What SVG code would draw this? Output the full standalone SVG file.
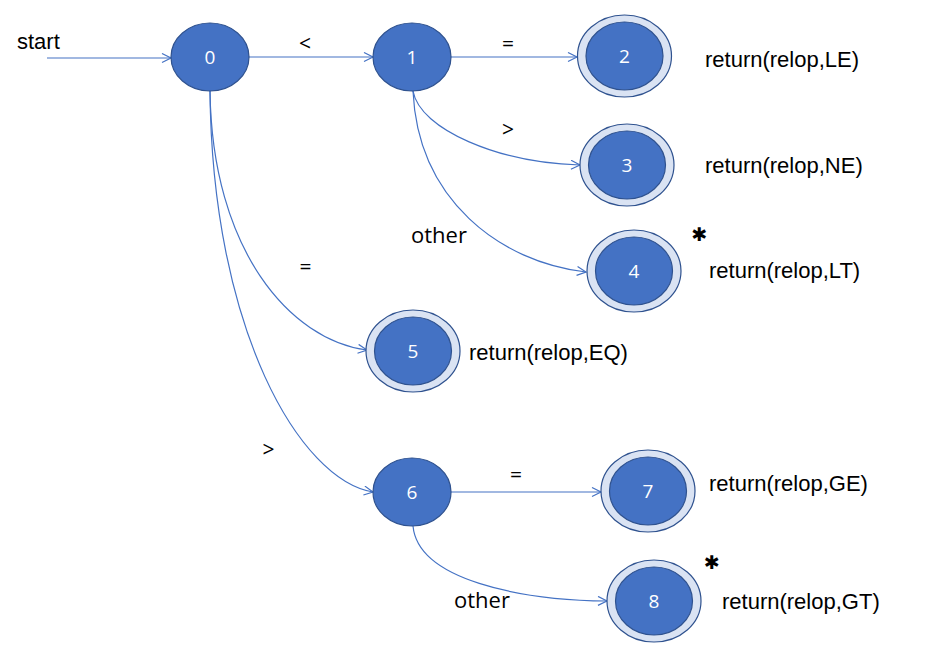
<svg xmlns="http://www.w3.org/2000/svg" width="942" height="645" viewBox="0 0 942 645">
<style>
.st{fill:#4472C4;stroke:#2F528F;stroke-width:1.2}
.ring{fill:#DAE3F3;stroke:#2F528F;stroke-width:1.2}
.num{font-family:"Open Sans","Noto Sans",sans-serif;font-size:19px;fill:#fff;text-anchor:middle}
.edge{fill:none;stroke:#4472C4;stroke-width:1.2;marker-end:url(#arr)}
.lbl{font-family:"Open Sans","Noto Sans",sans-serif;font-size:21px;fill:#000;text-anchor:middle}
.oth{font-family:"Open Sans","Noto Sans",sans-serif;font-size:22px;fill:#000}
.ret{font-family:"Liberation Sans",Arial,sans-serif;font-size:22px;fill:#000}
.star{font-family:"DejaVu Sans",sans-serif;font-size:19px;font-weight:bold;fill:#000;text-anchor:middle}
</style>
<defs>
<marker id="arr" markerWidth="12" markerHeight="12" refX="10" refY="5" orient="auto" markerUnits="userSpaceOnUse">
<path d="M1,0.5 L10,5 L1,9.5" fill="none" stroke="#4472C4" stroke-width="1.2"/>
</marker>
</defs>
<rect width="942" height="645" fill="#fff"/>
<g id="connectors">
<path class="edge" d="M47,58 L171,58"/>
<path class="edge" d="M249,57 L373,57"/>
<path class="edge" d="M451,57 L577,57"/>
<path class="edge" d="M413,91 C420,130 500,163 580,165"/>
<path class="edge" d="M413,91 C418,200 500,262 586,272"/>
<path class="edge" d="M210,91 C212,250 290,340 367,350"/>
<path class="edge" d="M210,91 C212,330 300,480 373,492"/>
<path class="edge" d="M451,492 L601,492"/>
<path class="edge" d="M413,526 C418,580 520,600 607,601"/>
</g>
<g id="labels">
<text x="17" y="49" style="font-family:'Liberation Sans',Arial,sans-serif;font-size:22px">start</text>
<text class="lbl" x="305" y="50.5">&lt;</text>
<text class="lbl" x="508" y="50.5">=</text>
<text class="lbl" x="508" y="136.5">&gt;</text>
<text class="oth" x="411" y="243">other</text>
<text class="lbl" x="305.5" y="274">=</text>
<text class="lbl" x="268.5" y="456.5">&gt;</text>
<text class="lbl" x="516" y="481.5">=</text>
<text class="oth" x="454" y="608">other</text>
</g>
<g id="node0"><ellipse class="st" cx="210" cy="57" rx="39" ry="34"/><text class="num" x="210" y="64">0</text></g>
<g id="node1"><ellipse class="st" cx="412" cy="57" rx="39" ry="34"/><text class="num" x="412" y="64">1</text></g>
<g id="node2"><ellipse class="ring" cx="624.5" cy="56" rx="47" ry="41"/><ellipse class="st" cx="624.5" cy="56" rx="38.5" ry="34"/><text class="num" x="624.5" y="63">2</text>
<text class="ret" x="705" y="67">return(relop,LE)</text></g>
<g id="node3"><ellipse class="ring" cx="627" cy="165" rx="47" ry="41"/><ellipse class="st" cx="627" cy="165" rx="38.5" ry="34"/><text class="num" x="627" y="172">3</text>
<text class="ret" x="705" y="173">return(relop,NE)</text></g>
<g id="node4"><ellipse class="ring" cx="634" cy="271" rx="47" ry="41"/><ellipse class="st" cx="634" cy="271" rx="38.5" ry="34"/><text class="num" x="634" y="278">4</text>
<text class="star" x="699.5" y="241">✱</text>
<text class="ret" x="709" y="278">return(relop,LT)</text></g>
<g id="node5"><ellipse class="ring" cx="413" cy="351" rx="47" ry="41"/><ellipse class="st" cx="413" cy="351" rx="38.5" ry="34"/><text class="num" x="413" y="358">5</text>
<text class="ret" x="469" y="360">return(relop,EQ)</text></g>
<g id="node6"><ellipse class="st" cx="412" cy="492" rx="39" ry="34"/><text class="num" x="412" y="499">6</text></g>
<g id="node7"><ellipse class="ring" cx="648" cy="491" rx="47" ry="41"/><ellipse class="st" cx="648" cy="491" rx="38.5" ry="34"/><text class="num" x="648" y="498">7</text>
<text class="ret" x="709" y="491">return(relop,GE)</text></g>
<g id="node8"><ellipse class="ring" cx="654" cy="601" rx="47" ry="41"/><ellipse class="st" cx="654" cy="601" rx="38.5" ry="34"/><text class="num" x="654" y="608">8</text>
<text class="star" x="712" y="569">✱</text>
<text class="ret" x="722" y="609">return(relop,GT)</text></g>
</svg>
